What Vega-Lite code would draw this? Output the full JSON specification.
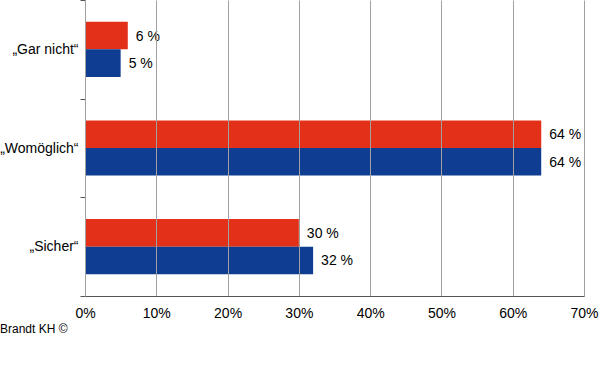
{
  "$schema": "https://vega.github.io/schema/vega-lite/v6.json",
  "width": 499,
  "height": 296,
  "autosize": "none",
  "padding": {"left": 85, "top": 0, "right": 16, "bottom": 82},
  "background": "white",
  "config": {
    "view": {"stroke": null},
    "font": "Liberation Sans"
  },
  "title": {
    "text": "Brandt KH ©",
    "orient": "bottom",
    "anchor": "start",
    "frame": "group",
    "dx": -85,
    "offset": 4,
    "font": "Liberation Sans",
    "fontSize": 12,
    "fontWeight": "normal",
    "color": "#000000"
  },
  "data": {
    "values": [
      {"antwort": "„Gar nicht“", "serie": "Serie 1", "wert": 6},
      {"antwort": "„Gar nicht“", "serie": "Serie 2", "wert": 5},
      {"antwort": "„Womöglich“", "serie": "Serie 1", "wert": 64},
      {"antwort": "„Womöglich“", "serie": "Serie 2", "wert": 64},
      {"antwort": "„Sicher“", "serie": "Serie 1", "wert": 30},
      {"antwort": "„Sicher“", "serie": "Serie 2", "wert": 32}
    ]
  },
  "encoding": {
    "y": {
      "field": "antwort",
      "type": "nominal",
      "sort": ["„Gar nicht“", "„Womöglich“", "„Sicher“"],
      "scale": {"paddingInner": 0, "paddingOuter": 0},
      "axis": {
        "title": null,
        "tickBand": "extent",
        "tickSize": 5,
        "tickColor": "#555555",
        "domainColor": "#888888",
        "labelPadding": 2,
        "labelFont": "Liberation Sans",
        "labelFontSize": 14,
        "labelColor": "#000000",
        "grid": false
      }
    },
    "yOffset": {
      "field": "serie",
      "type": "nominal",
      "scale": {"paddingInner": 0, "paddingOuter": 0.79}
    },
    "x": {
      "field": "wert",
      "type": "quantitative",
      "scale": {"domain": [0, 70], "nice": false},
      "axis": {
        "title": null,
        "values": [0, 10, 20, 30, 40, 50, 60, 70],
        "labelExpr": "datum.value + '%'",
        "labelFlush": false,
        "grid": true,
        "gridColor": "#a0a0a0",
        "ticks": false,
        "domainColor": "#555555",
        "labelPadding": 10,
        "labelFont": "Liberation Sans",
        "labelFontSize": 14,
        "labelColor": "#000000",
        "zindex": 1
      }
    }
  },
  "layer": [
    {
      "mark": {"type": "bar", "height": {"band": 1}},
      "encoding": {
        "color": {
          "field": "serie",
          "type": "nominal",
          "scale": {"range": ["#e33019", "#0f3d91"]},
          "legend": null
        }
      }
    },
    {
      "transform": [{"calculate": "datum.wert + ' %'", "as": "beschriftung"}],
      "mark": {"type": "text", "align": "left", "baseline": "middle", "dx": 8, "dy": 1, "font": "Liberation Sans", "fontSize": 14, "color": "#000000"},
      "encoding": {
        "text": {"field": "beschriftung", "type": "nominal"}
      }
    }
  ]
}
